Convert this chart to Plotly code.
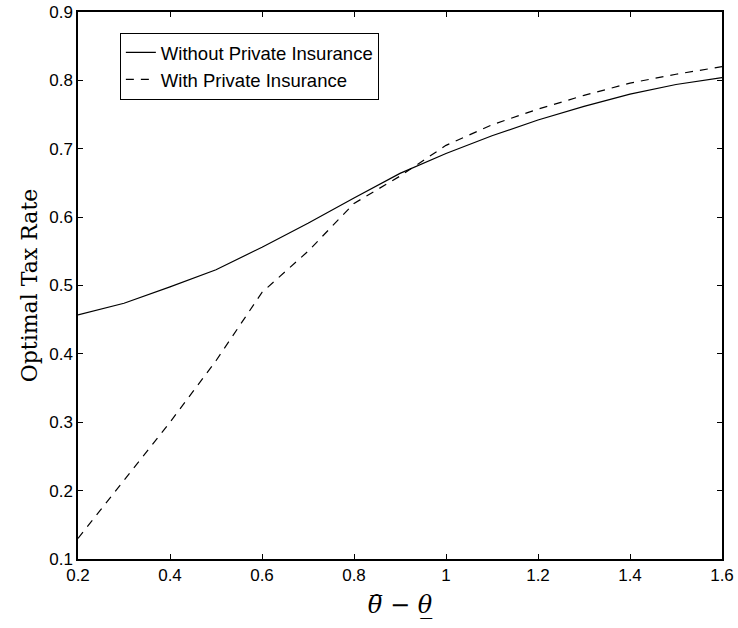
import plotly.graph_objects as go

x_vals = [0.2, 0.3, 0.4, 0.5, 0.6, 0.7, 0.8, 0.9, 1.0, 1.1, 1.2, 1.3, 1.4, 1.5, 1.6]
without_private = [0.457, 0.474, 0.498, 0.523, 0.556, 0.591, 0.628, 0.664, 0.693, 0.719, 0.742, 0.762, 0.780, 0.794, 0.804]
with_private = [0.13, 0.215, 0.30, 0.39, 0.49, 0.55, 0.62, 0.66, 0.705, 0.735, 0.758, 0.778, 0.796, 0.809, 0.82]

x_ticks = [0.2, 0.4, 0.6, 0.8, 1.0, 1.2, 1.4, 1.6]
x_tick_text = ["0.2", "0.4", "0.6", "0.8", "1", "1.2", "1.4", "1.6"]
y_ticks = [0.1, 0.2, 0.3, 0.4, 0.5, 0.6, 0.7, 0.8, 0.9]

fig = go.Figure()
fig.add_trace(go.Scatter(x=x_vals, y=without_private, mode="lines",
                         name="Without Private Insurance",
                         line=dict(color="black", width=1.2)))
fig.add_trace(go.Scatter(x=x_vals, y=with_private, mode="lines",
                         name="With Private Insurance",
                         line=dict(color="black", width=1.2, dash="8px,7px")))

axis_common = dict(showgrid=False, zeroline=False, showline=True, linecolor="black",
                   linewidth=1.5, mirror="allticks", ticks="inside", ticklen=5,
                   tickcolor="black", automargin=False,
                   tickfont=dict(family="Arial", size=17, color="black"))

fig.update_layout(
    width=738, height=628,
    margin=dict(l=78, r=16, t=12, b=69),
    plot_bgcolor="white", paper_bgcolor="white",
    xaxis=dict(range=[0.2, 1.6], tickvals=x_ticks, ticktext=x_tick_text,
               title=dict(text="<i>θ̅</i> − <i>θ̲</i>",
                          font=dict(family="DejaVu Serif", size=24, color="black"),
                          standoff=12),
               **axis_common),
    yaxis=dict(range=[0.1, 0.9], tickvals=y_ticks, tickformat=".1f",
               title=dict(text="Optimal Tax Rate",
                          font=dict(family="DejaVu Serif", size=22, color="black"),
                          standoff=6),
               **axis_common),
    legend=dict(x=0.065, y=0.962, xanchor="left", yanchor="top",
                bgcolor="white", bordercolor="black", borderwidth=1,
                font=dict(family="Arial", size=18.5, color="black"),
                tracegroupgap=0),
    showlegend=True,
)

fig.write_html("out.html")
